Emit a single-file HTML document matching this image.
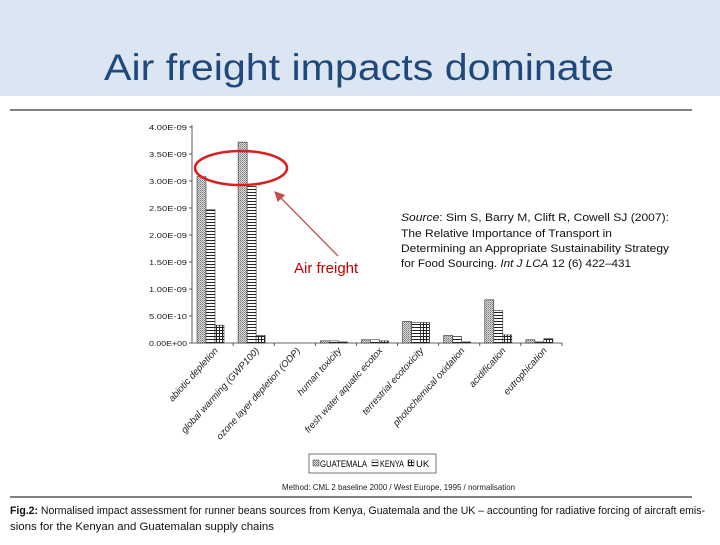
<!DOCTYPE html>
<html><head><meta charset="utf-8"><style>
body{margin:0;width:720px;height:540px;background:#fff;overflow:hidden;font-family:"Liberation Sans",sans-serif}
</style></head><body>
<svg width="720" height="540" xmlns="http://www.w3.org/2000/svg">
<defs>
<pattern id="pG" width="2" height="2" patternUnits="userSpaceOnUse"><rect width="2" height="2" fill="#ddd"/><rect width="1" height="1" fill="#777"/><rect x="1" y="1" width="1" height="1" fill="#999"/></pattern>
<pattern id="pK" width="3" height="3" patternUnits="userSpaceOnUse"><rect width="3" height="3" fill="#fff"/><rect width="3" height="1" fill="#222"/></pattern>
<pattern id="pU" width="3" height="3" patternUnits="userSpaceOnUse"><rect width="3" height="3" fill="#fff"/><rect width="3" height="1" fill="#222"/><rect width="1" height="3" fill="#222"/></pattern>
<marker id="ah" markerWidth="8" markerHeight="8" refX="6" refY="4" orient="auto"><path d="M0,0 L8,4 L0,8 z" fill="#c0504d"/></marker>
</defs>
<rect x="0" y="0" width="720" height="96" fill="#dce6f2"/>
<text x="104" y="80" textLength="510" lengthAdjust="spacingAndGlyphs" font-family="'Liberation Sans',sans-serif" font-size="37" fill="#1f497d">Air freight impacts dominate</text>
<line x1="10" y1="110" x2="692" y2="110" stroke="#000" stroke-width="1"/>
<line x1="10" y1="497" x2="692" y2="497" stroke="#000" stroke-width="1"/>
<g id="chart"></g>
<ellipse cx="241" cy="168" rx="46" ry="17" fill="none" stroke="#d62020" stroke-width="2.5"/>
<line x1="338" y1="256" x2="276" y2="193" stroke="#c0504d" stroke-width="1.3" marker-end="url(#ah)"/>
<text x="294" y="273" font-size="15" fill="#c00000">Air freight</text>
<g font-size="11" fill="#111">
<text x="401" y="221" textLength="268" lengthAdjust="spacingAndGlyphs"><tspan font-style="italic">Source</tspan>: Sim S, Barry M, Clift R, Cowell SJ (2007):</text>
<text x="401" y="237" textLength="211" lengthAdjust="spacingAndGlyphs">The Relative Importance of Transport in</text>
<text x="401" y="252" textLength="268" lengthAdjust="spacingAndGlyphs">Determining an Appropriate Sustainability Strategy</text>
<text x="401" y="267" textLength="230" lengthAdjust="spacingAndGlyphs">for Food Sourcing. <tspan font-style="italic">Int J LCA</tspan> 12 (6) 422–431</text>
</g>
<g>
<rect x="309" y="454" width="127" height="19" fill="#fff" stroke="#555" stroke-width="0.8"/>
<rect x="313" y="460" width="6" height="6" fill="url(#pG)" stroke="#333" stroke-width="0.5"/>
<text x="320" y="467" font-size="9.5" textLength="47" lengthAdjust="spacingAndGlyphs">GUATEMALA</text>
<rect x="372" y="460" width="6" height="6" fill="url(#pK)" stroke="#333" stroke-width="0.5"/>
<text x="380" y="467" font-size="9.5" textLength="24" lengthAdjust="spacingAndGlyphs">KENYA</text>
<rect x="408" y="460" width="6" height="6" fill="url(#pU)" stroke="#333" stroke-width="0.5"/>
<text x="416" y="467" font-size="9.5">UK</text>
</g>
<text x="282" y="490" textLength="233" lengthAdjust="spacingAndGlyphs" font-size="8" fill="#222">Method: CML 2 baseline 2000 / West Europe, 1995 / normalisation</text>
<g font-size="11" fill="#111">
<text x="10" y="514" textLength="695" lengthAdjust="spacingAndGlyphs"><tspan font-weight="bold">Fig.2:</tspan> Normalised impact assessment for runner beans sources from Kenya, Guatemala and the UK – accounting for radiative forcing of aircraft emis-</text>
<text x="10" y="530" textLength="264" lengthAdjust="spacingAndGlyphs">sions for the Kenyan and Guatemalan supply chains</text>
</g>
</svg>
<script>
const categories=["abiotic depletion","global warming (GWP100)","ozone layer depletion (ODP)","human toxicity","fresh water aquatic ecotox","terrestrial ecotoxicity","photochemical oxidation","acidification","eutrophication"];
const guatemala=[3.08,3.72,0,0.04,0.06,0.40,0.14,0.80,0.06];
const kenya=[2.47,2.90,0,0.04,0.06,0.38,0.12,0.60,0.02];
const uk=[0.33,0.14,0,0.02,0.04,0.38,0.02,0.15,0.08];
const yTicks=[0,0.5,1,1.5,2,2.5,3,3.5,4];
const yTickLabels=["0.00E+00","5.00E-10","1.00E-09","1.50E-09","2.00E-09","2.50E-09","3.00E-09","3.50E-09","4.00E-09"];
const NS="http://www.w3.org/2000/svg";
const g=document.getElementById('chart');
const X0=192,X1=562,Y0=343,Y1=127,YMAX=4;
const cw=(X1-X0)/categories.length;
const y=v=>Y0-(v/YMAX)*(Y0-Y1);
const x=i=>X0+i*cw;
function mk(tag,attrs){const e=document.createElementNS(NS,tag);for(const k in attrs)e.setAttribute(k,attrs[k]);g.appendChild(e);return e;}
let ax=mk('line',{x1:X0,y1:Y1-2,x2:X0,y2:Y0,stroke:'#333','stroke-width':0.8});


let bx=mk('line',{x1:X0,y1:Y0,x2:X1,y2:Y0,stroke:'#333','stroke-width':0.8});


yTicks.forEach((t,i)=>{
  let tk=mk('line',{x1:X0-3,y1:y(t),x2:X0,y2:y(t),stroke:'#333','stroke-width':0.8});
  
  
  let tl=mk('text',{x:X0-5,y:y(t)+3,'text-anchor':'end','font-size':7.5,fill:'#222',textLength:38,lengthAdjust:'spacingAndGlyphs'});
  tl.textContent=yTickLabels[i];
  
  
});
const series=[[guatemala,'url(#pG)','guatemala'],[kenya,'url(#pK)','kenya'],[uk,'url(#pU)','uk']];
const bw=9,off=5;
categories.forEach((c,i)=>{
  let tk=mk('line',{x1:x(i+1),y1:Y0,x2:x(i+1),y2:Y0+3,stroke:'#333','stroke-width':0.8});
  
  
  series.forEach((s,j)=>{
    const v=s[0][i];
    const r=mk('rect',{x:x(i)+off+j*bw,y:y(v),width:bw,height:Y0-y(v),fill:s[1],stroke:'#333','stroke-width':0.6});
    
    
  });
  const cx=x(i)+cw/2+6,cy=Y0+8;
  const t=mk('text',{x:cx,y:cy,'text-anchor':'end','font-size':9.5,fill:'#222',transform:`rotate(-48 ${cx} ${cy})`,'font-style':'italic'});
  t.textContent=c;
  
  
});
</script>
</body></html>
